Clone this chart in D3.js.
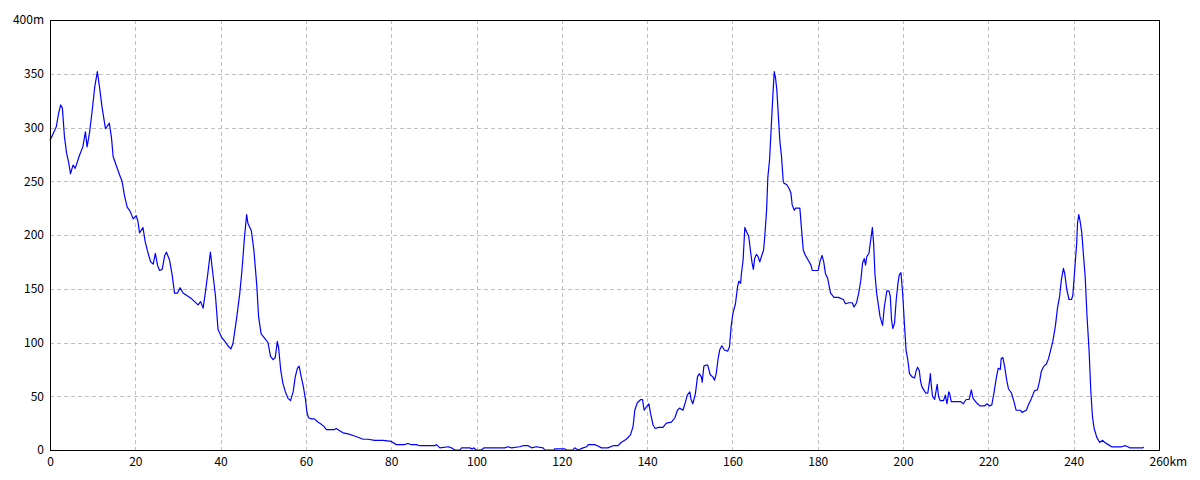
<!DOCTYPE html>
<html>
<head>
<meta charset="utf-8">
<script src="https://cdn.jsdelivr.net/npm/d3@7"></script>
<style>
  body { margin: 0; background: #fff; }
  svg { display: block; }
  text { font-family: "Noto Sans CJK JP", "DejaVu Sans", sans-serif; font-size: 12px; fill: #000; }
</style>
</head>
<body>
<svg id="chart"></svg>
<script>
// distance along route (km) and elevation (m)
const distKm = [
  0.0, 0.7, 1.5, 2.0, 2.5, 2.9, 3.4, 3.9, 4.4, 4.8, 5.4, 5.9, 6.9, 7.7, 8.3, 8.7, 9.3, 9.9, 10.5, 11.1,
  11.6, 12.2, 13.0, 13.4, 13.9, 14.4, 14.8, 15.6, 16.3, 16.9, 17.5, 18.1, 18.8, 19.5, 20.2, 20.6, 21.0, 21.8, 22.3, 23.0,
  23.6, 24.2, 24.7, 25.2, 25.7, 26.3, 26.9, 27.3, 28.0, 28.6, 29.2, 29.9, 30.5, 31.2, 32.0, 33.1, 33.9, 34.7, 35.3, 35.9,
  36.4, 37.0, 37.6, 38.1, 38.8, 39.4, 40.2, 41.0, 41.7, 42.4, 42.9, 43.7, 44.5, 45.0, 45.6, 46.1, 46.4, 47.2, 47.8, 48.5,
  48.9, 49.5, 50.3, 51.1, 51.7, 52.3, 52.8, 53.3, 53.6, 54.1, 54.6, 55.2, 55.8, 56.4, 57.0, 57.5, 58.0, 58.4, 58.9, 59.4,
  59.9, 60.2, 60.6, 61.3, 62.0, 62.8, 63.6, 64.2, 64.8, 66.7, 67.1, 67.9, 68.7, 69.9, 71.4, 73.4, 74.6, 76.1, 76.9, 78.1,
  80.0, 81.2, 82.4, 83.1, 83.9, 84.7, 85.9, 86.7, 88.6, 90.2, 90.6, 91.4, 93.4, 94.1, 94.9, 96.1, 96.5, 98.4, 99.0, 99.4,
  99.9, 101.1, 101.8, 105.0, 106.6, 107.4, 108.2, 110.1, 110.9, 112.1, 112.9, 114.0, 115.6, 116.0, 118.2, 118.3, 120.7, 121.1, 122.6, 123.0,
  123.8, 125.0, 125.8, 126.2, 127.7, 128.3, 129.3, 130.8, 132.0, 133.2, 133.9, 135.1, 136.1, 136.7, 137.1, 137.7, 138.5, 138.9, 139.3, 139.8,
  140.4, 140.8, 141.4, 141.9, 142.7, 143.7, 144.5, 145.7, 146.5, 147.1, 147.6, 148.4, 149.0, 149.4, 150.0, 150.3, 150.7, 151.3, 151.8, 152.2,
  152.7, 152.9, 153.3, 153.8, 154.2, 154.8, 155.4, 155.8, 156.2, 156.6, 157.0, 157.5, 158.1, 158.9, 159.3, 159.7, 160.1, 160.7, 161.2, 161.5,
  161.9, 162.1, 162.5, 162.9, 163.3, 163.8, 164.3, 164.6, 164.9, 165.2, 165.6, 166.0, 166.4, 166.8, 167.3, 167.6, 168.0, 168.3, 168.7, 169.1,
  169.5, 169.8, 170.1, 170.4, 170.7, 171.1, 171.5, 171.9, 172.1, 172.7, 173.3, 173.7, 174.0, 174.5, 174.8, 175.8, 176.2, 176.6, 177.1, 177.7,
  178.4, 178.7, 179.3, 180.1, 180.5, 181.0, 181.4, 181.8, 182.3, 182.7, 183.0, 183.8, 184.8, 186.0, 186.5, 187.3, 188.1, 188.5, 189.1, 189.6,
  190.1, 190.5, 190.9, 191.2, 191.5, 192.0, 192.3, 192.8, 193.1, 193.4, 193.8, 194.2, 194.6, 195.2, 195.6, 196.2, 196.7, 197.0, 197.3, 197.6,
  198.0, 198.4, 198.8, 199.1, 199.5, 199.9, 200.3, 200.7, 201.1, 201.5, 202.1, 202.7, 203.1, 203.4, 203.8, 204.1, 204.4, 205.0, 205.3, 205.8,
  206.2, 206.4, 206.6, 206.9, 207.4, 207.7, 208.0, 208.3, 208.7, 209.5, 209.9, 210.3, 210.7, 210.9, 211.3, 211.8, 213.0, 213.5, 214.1, 214.8,
  215.5, 216.0, 216.4, 217.2, 218.0, 219.1, 219.7, 220.3, 220.8, 221.3, 221.9, 222.3, 222.8, 223.0, 223.4, 223.8, 224.3, 224.7, 225.4, 226.0,
  226.5, 227.5, 227.9, 228.9, 229.4, 230.1, 230.8, 231.5, 232.0, 232.4, 233.0, 233.6, 234.1, 234.6, 235.1, 235.7, 236.2, 236.7, 237.1, 237.6,
  237.9, 238.4, 238.9, 239.5, 239.8, 240.3, 240.7, 240.9, 241.2, 241.5, 241.9, 242.3, 242.7, 243.1, 243.6, 244.0, 244.4, 244.8, 245.4, 246.1,
  246.8, 247.3, 248.1, 248.9, 249.8, 250.4, 251.2, 252.1, 252.7, 253.1, 256.2, 256.4
];
const elevM = [
  288, 294, 301, 313, 321, 318, 291, 276, 267, 257, 265, 262, 274, 282, 296, 282, 296, 316, 338, 352,
  338, 319, 299, 301, 304, 291, 273, 264, 256, 250, 236, 226, 222, 215, 218, 213, 202, 207, 194, 183,
  175, 173, 183, 172, 167, 168, 181, 184, 177, 164, 146, 146, 151, 146, 144, 141, 138, 135, 138, 132,
  146, 164, 184, 167, 143, 112, 105, 101, 97, 94, 99, 121, 146, 167, 198, 219, 211, 204, 186, 152,
  124, 108, 104, 100, 87, 84, 86, 101, 95, 74, 62, 54, 48, 46, 54, 68, 76, 78, 68, 59,
  47, 36, 30, 29, 29, 26, 24, 22, 19, 19, 20, 18, 16, 15, 13, 10, 10, 9, 9, 9,
  8, 5, 5, 5, 6, 5, 5, 4, 4, 4, 5, 2, 3, 2, 0, 0, 2, 2, 1, 2,
  0, 0, 2, 2, 2, 3, 2, 3, 4, 4, 2, 3, 2, 0, 0, 1, 1, 0, 0, 2,
  0, 2, 3, 5, 5, 4, 2, 2, 4, 4, 7, 10, 14, 22, 37, 44, 47, 47, 37, 40,
  43, 34, 23, 20, 21, 21, 25, 26, 30, 37, 39, 37, 45, 51, 54, 47, 43, 52, 68, 71,
  68, 63, 78, 79, 79, 70, 68, 65, 71, 84, 93, 97, 93, 92, 96, 115, 127, 136, 152, 157,
  155, 164, 177, 207, 203, 199, 183, 174, 168, 178, 182, 180, 175, 180, 186, 200, 223, 254, 270, 301,
  332, 352, 346, 335, 315, 288, 273, 250, 248, 247, 243, 239, 228, 223, 225, 225, 205, 186, 181, 177,
  172, 167, 167, 167, 175, 181, 175, 164, 160, 152, 146, 142, 142, 140, 136, 137, 137, 133, 137, 146,
  158, 174, 178, 172, 180, 183, 192, 207, 192, 164, 146, 135, 124, 116, 133, 148, 148, 143, 121, 113,
  118, 140, 155, 163, 165, 146, 118, 93, 84, 71, 68, 67, 74, 77, 74, 64, 59, 55, 53, 53,
  64, 71, 61, 50, 47, 54, 61, 50, 46, 46, 51, 43, 54, 53, 45, 45, 45, 45, 43, 47,
  47, 56, 48, 44, 41, 41, 43, 41, 42, 53, 68, 76, 75, 85, 86, 78, 65, 57, 53, 45,
  37, 37, 35, 37, 42, 48, 55, 56, 64, 73, 78, 80, 85, 93, 101, 115, 132, 143, 158, 169,
  164, 149, 140, 140, 144, 171, 192, 211, 219, 213, 202, 181, 161, 126, 93, 56, 31, 20, 12, 7,
  9, 7, 5, 3, 3, 3, 3, 4, 3, 2, 2, 3
];
const xTicks = [0, 20, 40, 60, 80, 100, 120, 140, 160, 180, 200, 220, 240, 260];
const yTicks = [0, 50, 100, 150, 200, 250, 300, 350, 400];

const W = 1200, H = 480;
const margin = { top: 20, right: 41, bottom: 30, left: 50 };
const width = W - margin.left - margin.right;
const height = H - margin.top - margin.bottom;

const svg = d3.select('#chart').attr('width', W).attr('height', H);
const g = svg.append('g').attr('transform', `translate(${margin.left}, ${margin.top})`);

const x = d3.scaleLinear().domain([0, 260]).range([0, width]);
const y = d3.scaleLinear().domain([0, 400]).range([height, 0]);

// dashed grid
g.append('g')
  .selectAll('line')
  .data(xTicks.slice(1, -1))
  .join('line')
  .attr('x1', d => Math.round(x(d)) + 0.5).attr('x2', d => Math.round(x(d)) + 0.5)
  .attr('y1', 0).attr('y2', height)
  .attr('stroke', '#c0c0c0').attr('stroke-dasharray', '4,3')
  .attr('shape-rendering', 'crispEdges')
g.append('g')
  .selectAll('line')
  .data(yTicks.slice(1, -1))
  .join('line')
  .attr('y1', d => Math.round(y(d)) + 0.5).attr('y2', d => Math.round(y(d)) + 0.5)
  .attr('x1', 0).attr('x2', width)
  .attr('stroke', '#c0c0c0').attr('stroke-dasharray', '4,3')
  .attr('shape-rendering', 'crispEdges')

// profile line
const data = distKm.map((d, i) => ({ km: d, m: elevM[i] }))
const line = d3.line()
  .x(d => x(d.km))
  .y(d => y(d.m))

g.append('path')
  .datum(data)
  .attr('fill', 'none')
  .attr('stroke', '#0000ff')
  .attr('stroke-width', 1.2)
  .attr('stroke-linejoin', 'round')
  .attr('d', line)

// frame
g.append('rect')
  .attr('x', 0.5).attr('y', 0.5)
  .attr('width', width).attr('height', height)
  .attr('fill', 'none').attr('stroke', '#000')
  .attr('shape-rendering', 'crispEdges')

// axes labels (no tick marks)
const xAxis = d3.axisBottom(x).tickValues(xTicks).tickSize(0).tickPadding(7)
  .tickFormat(d => d)
const yAxis = d3.axisLeft(y).tickValues(yTicks).tickSize(0).tickPadding(6)
  .tickFormat(d => d === 400 ? '400m' : d)

const gx = g.append('g').attr('transform', `translate(0, ${height})`).call(xAxis)
const gy = g.append('g').call(yAxis)
gx.select('.domain').remove()
gy.select('.domain').remove()
gx.selectAll('text').attr('font-size', 12).attr('font-family', null)
gy.selectAll('text').attr('font-size', 12).attr('font-family', null)

// "km" tacked onto the last x label, number stays centred on its tick
gx.selectAll('.tick text').filter(d => d === 260)
  .append('tspan').text('km')
const last = gx.selectAll('.tick text').filter(d => d === 260)
const numW = last.node().getSubStringLength(0, 3)
last.attr('text-anchor', 'start').attr('x', -numW / 2)
</script>
</body>
</html>
